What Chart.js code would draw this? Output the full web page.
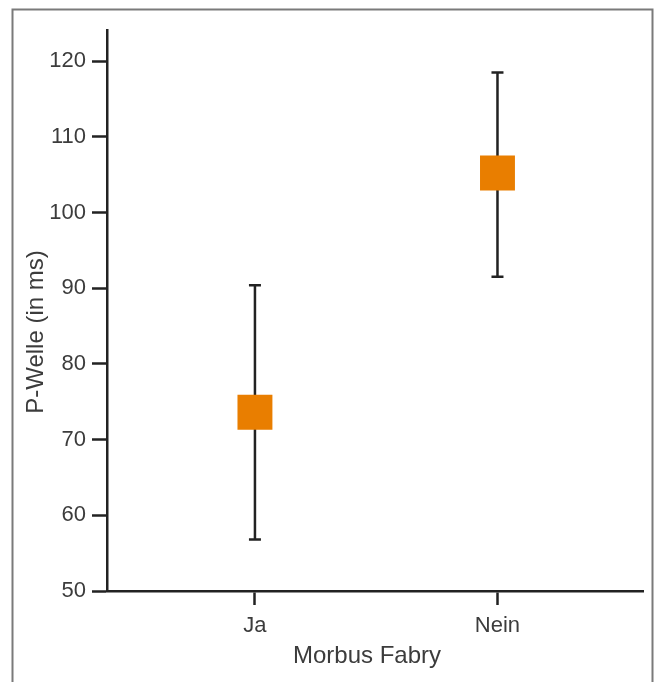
<!DOCTYPE html>
<html>
<head>
<meta charset="utf-8">
<script src="https://cdn.jsdelivr.net/npm/chart.js@4"></script>
<style>
  html, body { margin: 0; padding: 0; background: #fff; }
  #wrap { width: 658px; height: 682px; }
</style>
</head>
<body>
<div id="wrap"><canvas id="pwelleChart" width="658" height="682"></canvas></div>
<script>
// P-Welle nach Morbus Fabry (Mittelwert mit Fehlerbalken)
const categories = ['Ja', 'Nein'];
const means = [73.6, 105.2];
const lower = [56.8, 91.5];
const upper = [90.4, 118.5];
const yTicks = [50, 60, 70, 80, 90, 100, 110, 120];

const axisColor = '#222';
const textColor = '#3c3c3c';
const fontFamily = '"Liberation Sans", Arial, sans-serif';

// gray frame around the figure (open at the bottom)
const framePlugin = {
  id: 'frame',
  beforeDraw(chart) {
    const ctx = chart.ctx;
    ctx.save();
    ctx.strokeStyle = '#7a7a7a';
    ctx.lineWidth = 2;
    ctx.beginPath();
    ctx.moveTo(12.5, 682);
    ctx.lineTo(12.5, 9.5);
    ctx.lineTo(652.5, 9.5);
    ctx.lineTo(652.5, 682);
    ctx.stroke();
    ctx.restore();
  }
};

// error bars, drawn under the squares
const errorBarPlugin = {
  id: 'errorBars',
  beforeDatasetsDraw(chart) {
    const ctx = chart.ctx;
    const xs = chart.scales.x, ys = chart.scales.y;
    ctx.save();
    ctx.strokeStyle = axisColor;
    ctx.lineWidth = 2.5;
    categories.forEach((c, i) => {
      const x = xs.getPixelForValue(i);
      const yLo = ys.getPixelForValue(lower[i]);
      const yHi = ys.getPixelForValue(upper[i]);
      ctx.beginPath();
      ctx.moveTo(x, yLo);
      ctx.lineTo(x, yHi);
      ctx.moveTo(x - 6, yLo);
      ctx.lineTo(x + 6, yLo);
      ctx.moveTo(x - 6, yHi);
      ctx.lineTo(x + 6, yHi);
      ctx.stroke();
    });
    ctx.restore();
  }
};

// axis titles
const titlePlugin = {
  id: 'axisTitles',
  afterDraw(chart) {
    const ctx = chart.ctx;
    ctx.save();
    ctx.fillStyle = textColor;
    ctx.font = '24px ' + fontFamily;
    ctx.textAlign = 'center';
    ctx.textBaseline = 'alphabetic';
    ctx.fillText('Morbus Fabry', 367, 663);
    ctx.translate(43, 332);
    ctx.rotate(-Math.PI / 2);
    ctx.fillText('P-Welle (in ms)', 0, 0);
    ctx.restore();
  }
};

const pwelleChart = new Chart(document.getElementById('pwelleChart'), {
  type: 'scatter',
  data: {
    datasets: [{
      label: 'P-Welle',
      data: categories.map((c, i) => ({ x: i, y: means[i] })),
      pointStyle: 'rect',
      pointRadius: 24.7,
      pointHoverRadius: 24.7,
      backgroundColor: '#e97e00',
      borderWidth: 0
    }]
  },
  options: {
    responsive: false,
    animation: false,
    events: [],
    layout: { autoPadding: false, padding: { top: 30, right: 15, left: 0, bottom: 0 } },
    plugins: {
      legend: { display: false },
      tooltip: { enabled: false }
    },
    scales: {
      x: {
        type: 'linear',
        min: -0.61,
        max: 1.6,
        afterBuildTicks: axis => { axis.ticks = categories.map((c, i) => ({ value: i })); },
        afterFit: axis => { axis.height = 91; },
        grid: {
          drawOnChartArea: false,
          drawTicks: true,
          tickLength: 14,
          tickWidth: 2.5,
          tickColor: axisColor
        },
        border: { display: true, color: axisColor, width: 2.5 },
        ticks: {
          padding: 8,
          color: textColor,
          font: { family: fontFamily, size: 22 },
          callback: v => categories[v]
        }
      },
      y: {
        min: 50,
        max: 124.1,
        afterBuildTicks: axis => { axis.ticks = yTicks.map(v => ({ value: v })); },
        afterFit: axis => { axis.width = 107; },
        grid: {
          drawOnChartArea: false,
          drawTicks: true,
          tickLength: 15,
          tickWidth: 2.5,
          tickColor: axisColor
        },
        border: { display: true, color: axisColor, width: 2.5 },
        ticks: {
          padding: 6,
          color: textColor,
          font: { family: fontFamily, size: 22 }
        }
      }
    }
  },
  plugins: [framePlugin, errorBarPlugin, titlePlugin]
});
</script>
</body>
</html>
